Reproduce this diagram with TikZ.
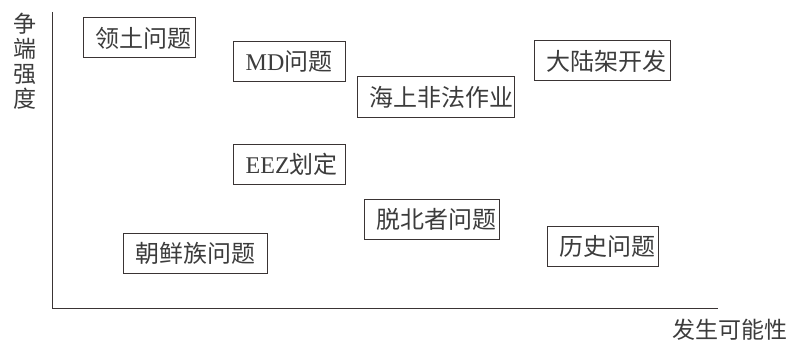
\documentclass[tikz,border=0pt]{standalone}
\usepackage{fontspec}
\newfontfamily\cjk{Noto Sans CJK SC}
\newfontfamily\latin{Liberation Serif}
\definecolor{linec}{HTML}{3A3434}
\definecolor{textc}{HTML}{3C3C3C}
\tikzset{
  box/.style={draw=linec, line width=1pt, minimum height=40pt, inner sep=0pt},
  lbl/.style={anchor=west, xshift=13pt, inner sep=0pt, text=textc, font=\cjk\fontsize{24}{24}\selectfont},
  axis/.style={draw=linec, line width=1pt},
  axlbl/.style={inner sep=0pt, text=textc, font=\cjk\fontsize{23}{25}\selectfont}
}
\begin{document}
\begin{tikzpicture}[x=1pt, y=-1pt]
\useasboundingbox (0,0) rectangle (790,345);
% axes
\coordinate (ytop) at (52.5,12);
\coordinate (orig) at (52.5,308);
\coordinate (xend) at (718,308);
\draw[axis] (ytop) -- (orig) -- (xend);
\node[axlbl, align=center] (ylab) at (25,61) {争\\端\\强\\度};
\node[axlbl] (xlab) at (730,330) {发生可能性};
% boxes
\node[box, minimum width=112pt, label={[lbl]west:领土问题}] (b1) at (139,38) {};
\node[box, minimum width=112pt, label={[lbl]west:{{\latin MD}问题}}] (b2) at (289,62) {};
\node[box, minimum width=157pt, label={[lbl]west:海上非法作业}] (b3) at (435.5,97) {};
\node[box, minimum width=136pt, label={[lbl]west:大陆架开发}] (b4) at (602,61) {};
\node[box, minimum width=112pt, label={[lbl]west:{{\latin EEZ}划定}}] (b5) at (289,164) {};
\node[box, minimum width=135pt, label={[lbl]west:脱北者问题}] (b6) at (431.5,219.5) {};
\node[box, minimum width=111pt, label={[lbl]west:历史问题}] (b7) at (602.5,246) {};
\node[box, minimum width=144pt, label={[lbl]west:朝鲜族问题}] (b8) at (195,253.5) {};
\end{tikzpicture}
\end{document}
